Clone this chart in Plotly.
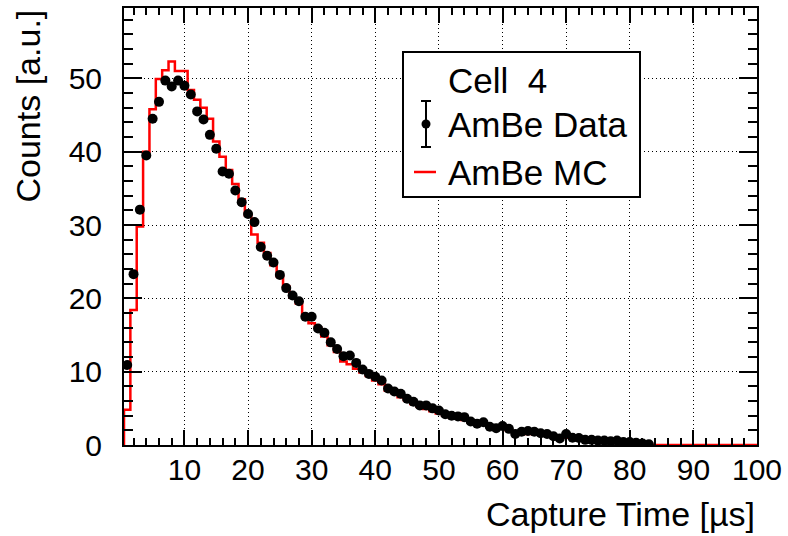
import plotly.graph_objects as go

# ---------------- data ----------------
data_x = list(range(1, 84))
data_y = [10.9, 23.3, 32.1, 39.5, 44.5, 46.8, 49.7, 48.9, 49.7, 49.0,
          47.8, 45.5, 44.4, 42.3, 40.4, 37.3, 37.0, 34.7, 33.1, 31.5,
          30.4, 27.0, 25.8, 24.9, 23.2, 21.4, 20.4, 19.6, 17.5, 17.5,
          15.9, 15.3, 14.0, 13.1, 12.1, 12.2, 11.2, 10.3, 9.7, 9.3,
          8.8, 7.7, 7.3, 7.0, 6.3, 5.9, 5.4, 5.4, 5.0, 4.7,
          4.2, 4.0, 3.9, 3.8, 3.2, 2.9, 3.1, 2.5, 2.3, 2.6,
          2.2, 1.5, 1.8, 1.9, 1.8, 1.6, 1.5, 1.2, 0.9, 1.5,
          1.0, 0.95, 0.7, 0.7, 0.6, 0.6, 0.5, 0.6, 0.4, 0.4,
          0.3, 0.2, 0.1]

mc_edges = [0.5 + i for i in range(101)]
mc_y = [4.8, 18.4, 29.8, 40.0, 45.8, 49.9, 51.1, 52.3, 51.0, 51.0,
        48.4, 47.1, 46.0, 44.5, 41.4, 39.3, 37.5, 35.6, 33.5, 31.3,
        28.7, 27.6, 26.2, 24.5, 23.0, 21.6, 20.2, 19.3, 17.8, 16.6,
        16.0, 14.8, 13.6, 12.7, 11.4, 11.0, 10.4, 9.9, 9.4, 8.8,
        8.3, 7.4, 7.1, 6.5, 6.1, 5.6, 5.2, 4.9, 4.6, 4.3,
        4.0, 3.8, 3.6, 3.4, 3.1, 2.9, 2.8, 2.5, 2.3, 2.2,
        2.0, 1.7, 1.6, 1.5, 1.5, 1.4, 1.3, 1.1, 1.0, 1.0,
        0.9, 0.8, 0.7, 0.7, 0.6, 0.6, 0.5, 0.5, 0.4, 0.4,
        0.3, 0.25, 0.1] + [0.0] * 17

x_tickvals = [10, 20, 30, 40, 50, 60, 70, 80, 90, 100]
y_tickvals = [0, 10, 20, 30, 40, 50]

legend_header = "Cell  4"
legend_data = "AmBe Data"
legend_mc = "AmBe MC"
x_title = "Capture Time [µs]"
y_title = "Counts [a.u.]"

# ---------------- layout geometry ----------------
W, H = 788, 536
L, R, T, B = 124, 31, 8, 91
PW, PH = W - L - R, H - T - B
FONT = "Liberation Sans, Arial, Helvetica, sans-serif"
TICKSIZE = 30


def px(xp):
    return (xp - L) / PW


def py(yp):
    return (H - B - yp) / PH


fig = go.Figure()

# MC histogram as step line
step_x = [mc_edges[0]] + mc_edges
step_y = [0.0] + mc_y + [mc_y[-1]]
fig.add_trace(go.Scatter(x=step_x, y=step_y, mode="lines", line_shape="hv",
                         line=dict(color="#ff0000", width=2.5),
                         hoverinfo="skip", showlegend=False))

# data points
fig.add_trace(go.Scatter(x=data_x, y=data_y, mode="markers",
                         marker=dict(color="black", size=10, symbol="circle"),
                         showlegend=False))

# dummy trace for mirrored axes
fig.add_trace(go.Scatter(x=[None], y=[None], xaxis="x2", yaxis="y2",
                         mode="markers", showlegend=False, hoverinfo="skip"))

common = dict(showline=True, linecolor="black", linewidth=2, mirror=False,
              ticks="inside", tickcolor="black", tickwidth=2,
              zeroline=False, automargin=False)

fig.update_layout(
    width=W, height=H,
    margin=dict(l=L, r=R, t=T, b=B, pad=0, autoexpand=False),
    paper_bgcolor="white", plot_bgcolor="white",
    font=dict(family=FONT, color="black"),
    xaxis=dict(range=[0.5, 100], tickvals=x_tickvals, ticklen=15,
               showgrid=True, gridcolor="black", gridwidth=1, griddash="1px,3px",
               tickfont=dict(size=TICKSIZE, family=FONT), ticklabelstandoff=-3,
               minor=dict(dtick=2, ticklen=7, tickwidth=2, ticks="inside",
                          tickcolor="black", showgrid=False),
               **common),
    yaxis=dict(range=[0, 59.6], tickvals=y_tickvals, ticklen=18,
               showgrid=True, gridcolor="black", gridwidth=1, griddash="1px,3px",
               tickfont=dict(size=TICKSIZE, family=FONT), ticklabelstandoff=14,
               minor=dict(dtick=2, ticklen=9, tickwidth=2, ticks="inside",
                          tickcolor="black", showgrid=False),
               **common),
    xaxis2=dict(range=[0.5, 100], overlaying="x", side="top", anchor="y2",
                tickvals=x_tickvals, ticklen=15, showticklabels=False, showgrid=False,
                minor=dict(dtick=2, ticklen=7, tickwidth=2, ticks="inside",
                           tickcolor="black", showgrid=False),
                **common),
    yaxis2=dict(range=[0, 59.6], overlaying="y", side="right", anchor="x2",
                tickvals=y_tickvals, ticklen=18, showticklabels=False, showgrid=False,
                minor=dict(dtick=2, ticklen=9, tickwidth=2, ticks="inside",
                           tickcolor="black", showgrid=False),
                **common),
    showlegend=False,
)

# axis titles
fig.add_annotation(text=x_title, xref="paper", yref="paper", x=1.0, y=py(514),
                   xanchor="right", yanchor="middle", showarrow=False,
                   font=dict(size=34, family=FONT, color="black"))
fig.add_annotation(text=y_title, xref="paper", yref="paper", x=px(27), y=1.0,
                   xanchor="center", yanchor="top", textangle=-90, showarrow=False,
                   font=dict(size=34, family=FONT, color="black"))

# legend box
fig.add_shape(type="rect", xref="paper", yref="paper",
              x0=px(403), x1=px(640), y0=py(197), y1=py(52),
              line=dict(color="black", width=2), fillcolor="white", layer="above")
# error-bar symbol
ex = 426
fig.add_shape(type="line", xref="paper", yref="paper", x0=px(ex), x1=px(ex),
              y0=py(101), y1=py(147), line=dict(color="black", width=2), layer="above")
for yy in (101, 147):
    fig.add_shape(type="line", xref="paper", yref="paper", x0=px(ex - 5), x1=px(ex + 5),
                  y0=py(yy), y1=py(yy), line=dict(color="black", width=2), layer="above")
fig.add_shape(type="circle", xref="paper", yref="paper",
              x0=px(ex - 4.5), x1=px(ex + 4.5), y0=py(124 + 4.5), y1=py(124 - 4.5),
              line=dict(color="black", width=0), fillcolor="black", layer="above")
# MC line symbol
fig.add_shape(type="line", xref="paper", yref="paper", x0=px(414), x1=px(436),
              y0=py(172), y1=py(172), line=dict(color="#ff0000", width=2.5), layer="above")

for txt, yy in ((legend_header, 80), (legend_data, 124), (legend_mc, 172)):
    fig.add_annotation(text=txt, xref="paper", yref="paper", x=px(446), y=py(yy),
                       xanchor="left", yanchor="middle", showarrow=False,
                       font=dict(size=35, family=FONT, color="black"))

fig.write_html("out.html",
               config={"displayModeBar": False},
               post_script="document.body.style.margin='0';document.body.style.overflow='hidden';")
